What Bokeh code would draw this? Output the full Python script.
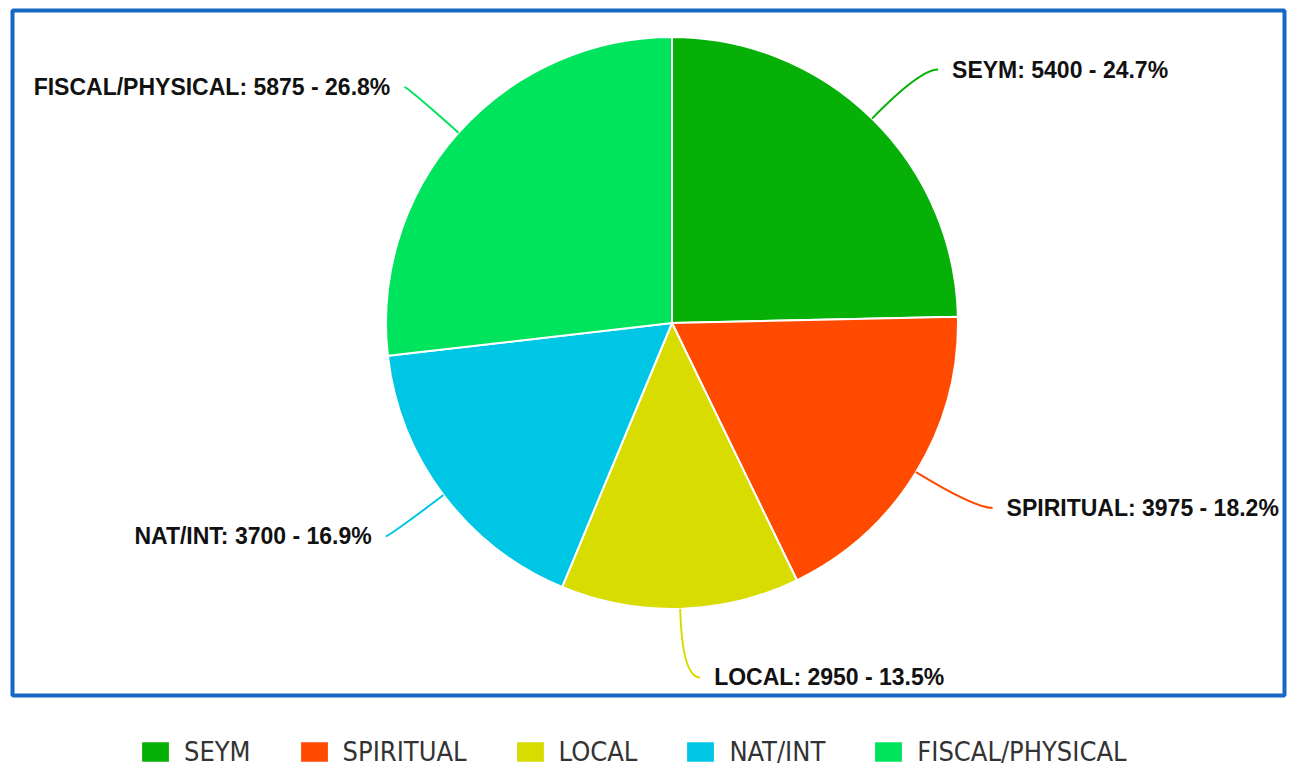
import numpy as np
from bokeh.plotting import figure
from bokeh.models import Range1d, Legend, LegendItem, ColumnDataSource
from bokeh.core.properties import value
from bokeh.embed import file_html
from bokeh.resources import INLINE

categories = ["SEYM", "SPIRITUAL", "LOCAL", "NAT/INT", "FISCAL/PHYSICAL"]
values = [5400, 3975, 2950, 3700, 5875]
colors = ["#06b006", "#ff4a00", "#d8dc00", "#00c6e6", "#00e35c"]

W, H = 1293, 768
p = figure(width=W, height=H, output_backend="svg", toolbar_location=None,
           x_range=Range1d(0, W), y_range=Range1d(0, H),
           min_border=0, outline_line_color=None)
p.axis.visible = False
p.grid.visible = False
p.background_fill_color = "white"

# blue chart frame
p.quad(left=[12], right=[1284], bottom=[73], top=[758], fill_color=None,
       line_color="#1668c4", line_width=4)

cx, cy, r = 671.5, 445.5, 286.0
vals = np.array(values, dtype=float)
frac = vals / vals.sum()
cum = np.concatenate([[0], np.cumsum(frac)])
start = np.pi / 2 - cum[:-1] * 2 * np.pi
end = np.pi / 2 - cum[1:] * 2 * np.pi
mid = (start + end) / 2

src = ColumnDataSource(dict(start=start, end=end, color=colors, cat=categories))
wr = p.wedge(x=cx, y=cy, radius=r, start_angle="start", end_angle="end",
             direction="clock", fill_color="color", line_color="white",
             line_width=2, source=src)

# data labels with connectors
R = 1.24 * r
for i, cat in enumerate(categories):
    th = mid[i]
    side = 1 if np.cos(th) >= 0 else -1
    x0, y0 = cx + r * np.cos(th), cy + r * np.sin(th)
    xc, yc = cx + R * np.cos(th), cy + R * np.sin(th)
    pad = 32 if side > 0 else 17
    lx = xc + side * pad
    ly = yc
    x1 = lx - side * 14
    p.quadratic(x0=[x0], y0=[y0], x1=[x1], y1=[ly], cx=[xc], cy=[yc],
                line_color=colors[i], line_width=2)
    txt = f"{cat}: {values[i]} - {frac[i]*100:.1f}%"
    p.text(x=[lx], y=[ly], text=[txt], text_font=value("Liberation Sans"),
           text_font_style="bold", text_font_size="23px", text_color="#111111",
           text_align="left" if side > 0 else "right", text_baseline="middle")

items = [LegendItem(label=c, renderers=[wr], index=i) for i, c in enumerate(categories)]
legend = Legend(items=items, orientation="horizontal", location=(137, 1),
                glyph_width=36, glyph_height=27, label_standoff=11, spacing=45,
                padding=0, margin=0, border_line_color=None,
                background_fill_alpha=0,
                label_text_font="'Liberation Sans Narrow', 'DejaVu Sans Condensed', sans-serif",
                label_text_font_size="27px", label_text_color="#333333",
                label_height=27)
p.add_layout(legend, "center")

open("out.html", "w").write(file_html(p, INLINE))
